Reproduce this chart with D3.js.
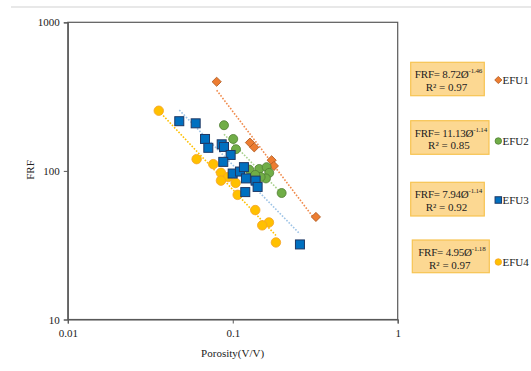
<!DOCTYPE html>
<html><head><meta charset="utf-8">
<script src="https://cdn.jsdelivr.net/npm/d3@7"></script>
<style>body{margin:0;background:#fff}svg{display:block}text{font-family:"Liberation Serif","Times New Roman",serif;fill:#222}</style>
</head><body><svg id="c" width="531" height="371"></svg>
<script>
const xTicks = [0.01, 0.1, 1];
const yTicks = [10, 100, 1000];
const seriesNames = ["EFU1", "EFU2", "EFU3", "EFU4"];
const efu1X = [0.0799, 0.1271, 0.1350, 0.1721, 0.1777, 0.3193];
const efu1Y = [398, 155, 144, 118, 108, 49];
const efu2X = [0.0885, 0.1007, 0.1046, 0.1259, 0.1447, 0.1605, 0.1664, 0.1589, 0.1476, 0.1369, 0.1979];
const efu2Y = [203, 164, 140, 102, 103, 106, 97, 89, 91, 94, 71];
const efu3X = [0.0474, 0.0596, 0.0679, 0.0711, 0.0857, 0.0885, 0.0971, 0.0876, 0.0999, 0.1106, 0.1169, 0.1202, 0.1376, 0.1415, 0.1191, 0.2555];
const efu3Y = [216, 209, 164, 143, 151, 145, 128, 115, 96, 99, 106, 89, 86, 78, 72, 32];
const efu4X = [0.0356, 0.0604, 0.0762, 0.0848, 0.0939, 0.0848, 0.1041, 0.1071, 0.1369, 0.1657, 0.1509, 0.1827];
const efu4Y = [254, 120, 111, 97, 91, 86, 83, 69, 54.5, 45, 43, 33];
const coefA = [8.72, 11.13, 7.94, 4.95];
const coefB = [-1.46, -1.14, -1.14, -1.18];
const coefLabelA = ["8.72", "11.13", "7.94", "4.95"];
const coefLabelB = ["-1.46", "-1.14", "-1.14", "-1.18"];
const r2Labels = ["0.97", "0.85", "0.92", "0.97"];

const fills = ["#ED7D31", "#70AD47", "#0070C0", "#FFC000"];
const strokes = ["#AE5A21", "#507E32", "#1F3864", "#F4A22A"];
const lineColors = ["#F08A4B", "#A9D18E", "#9DC3E6", "#FFC000"];
const shapes = ["diamond", "circle", "square", "circle"];

const svg = d3.select("#c");
svg.append("line").attr("x1", 11).attr("x2", 531).attr("y1", 7).attr("y2", 7)
  .attr("stroke", "#e8e8e8").attr("stroke-width", 2);

const L = 67.8, R = 397.7, T = 22.3, B = 319.5;
const x = d3.scaleLog().domain([0.01, 1]).range([L, R]);
const y = d3.scaleLog().domain([10, 1000]).range([B, T]);

svg.append("rect").attr("x", L).attr("y", T).attr("width", R - L).attr("height", B - T)
  .attr("fill", "none").attr("stroke", "#595959").attr("stroke-width", 1.2);

const xAxis = svg.append("g").attr("transform", `translate(0,${B})`)
  .call(d3.axisBottom(x).tickValues(xTicks).tickFormat(d3.format("")).tickSize(4).tickPadding(6));
const yAxis = svg.append("g").attr("transform", `translate(${L},0)`)
  .call(d3.axisLeft(y).tickValues(yTicks).tickFormat(d3.format("")).tickSize(4).tickPadding(4));
[xAxis, yAxis].forEach(a => {
  a.select(".domain").attr("stroke", "#595959").attr("stroke-width", 1.2);
  a.selectAll(".tick line").attr("stroke", "#595959");
  a.selectAll("text").style("font-family", '"Liberation Serif",serif').style("font-size", "11px").attr("fill", "#333");
});

svg.append("text").attr("x", 232.6).attr("y", 357).attr("text-anchor", "middle")
  .style("font-size", "11px").text("Porosity(V/V)");
svg.append("text").attr("transform", "translate(34,170) rotate(-90)").attr("text-anchor", "middle")
  .style("font-size", "11px").text("FRF");

const xs = [efu1X, efu2X, efu3X, efu4X];
const ys = [efu1Y, efu2Y, efu3Y, efu4Y];

// trend lines
const line = d3.line().x(d => x(d[0])).y(d => y(d[1]));
xs.forEach((xv, i) => {
  const ext = d3.extent(xv);
  const pts = ext.map(p => [p, coefA[i] * Math.pow(p, coefB[i])]);
  svg.append("path").attr("d", line(pts)).attr("fill", "none")
    .attr("stroke", lineColors[i]).attr("stroke-width", 1.6).attr("stroke-dasharray", "1.6,1.6");
});

function drawMarker(g, shape, cx, cy, s, i) {
  if (shape === "square") {
    g.append("rect").attr("x", cx - s / 2).attr("y", cy - s / 2).attr("width", s).attr("height", s)
      .attr("fill", fills[i]).attr("stroke", strokes[i]).attr("stroke-width", 1);
  } else if (shape === "circle") {
    g.append("circle").attr("cx", cx).attr("cy", cy).attr("r", s / 2)
      .attr("fill", fills[i]).attr("stroke", strokes[i]).attr("stroke-width", 0.8);
  } else {
    const d = s * 0.72;
    g.append("rect").attr("x", -d / 2).attr("y", -d / 2).attr("width", d).attr("height", d)
      .attr("transform", `translate(${cx},${cy}) rotate(45)`)
      .attr("fill", fills[i]).attr("stroke", strokes[i]).attr("stroke-width", 0.8);
  }
}

const order = [0, 1, 3, 2];
const markerSize = [9, 9, 9, 9.5];
order.forEach(i => {
  const g = svg.append("g");
  xs[i].forEach((xv, j) => drawMarker(g, shapes[i], x(xv), y(ys[i][j]), markerSize[i], i));
});

// legend
const boxes = [
  {x: 410.7, y: 62.3, w: 73.6, h: 33.4, my: 80},
  {x: 410.7, y: 120.7, w: 78.3, h: 33.6, my: 141},
  {x: 410.7, y: 182.3, w: 73.6, h: 33.7, my: 200},
  {x: 412.3, y: 240, w: 77, h: 32.7, my: 262}
];
boxes.forEach((b, i) => {
  const g = svg.append("g");
  g.append("rect").attr("x", b.x).attr("y", b.y).attr("width", b.w).attr("height", b.h)
    .attr("fill", "#FCD892").attr("stroke", "#F7C451").attr("stroke-width", 1.2);
  const cx = b.x + b.w / 2;
  const t1 = g.append("text").attr("x", cx + 1).attr("y", b.y + 16).attr("text-anchor", "middle")
    .style("font-size", "11px").style("letter-spacing", "-0.2px");
  t1.append("tspan").text(`FRF= ${coefLabelA[i]}\u00D8`);
  t1.append("tspan").attr("dy", -5).style("font-size", "7px").text(coefLabelB[i]);
  g.append("text").attr("x", cx - 1).attr("y", b.y + 28.5).attr("text-anchor", "middle")
    .style("font-size", "11px").text(`R\u00B2 = ${r2Labels[i]}`);
  drawMarker(g, shapes[i], 498.3, b.my, i === 0 ? 7 : 6.5, i);
  g.append("text").attr("x", 502.5).attr("y", b.my + 4).style("font-size", "11px").text(seriesNames[i]);
});
</script></body></html>
